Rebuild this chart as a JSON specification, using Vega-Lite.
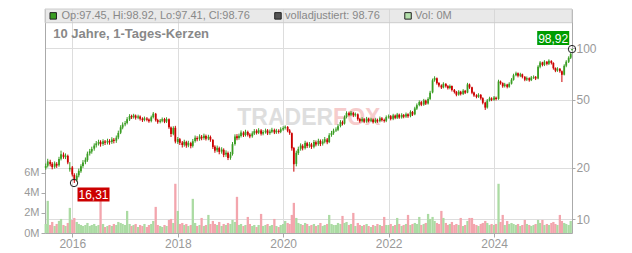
{
"$schema":"https://vega.github.io/schema/vega-lite/v6.json",
"width":527,"height":224,
"autosize":{"type":"none"},
"padding":{"left":45,"top":9,"right":60,"bottom":20},
"background":"white",
"config":{"font":"Liberation Sans","view":{"stroke":null}},
"datasets":{
"ohlc":[
{"d":"2015-07-01","o":20.0,"h":21.2,"l":19.5,"c":20.5,"v":0.9},
{"d":"2015-07-15","o":20.6,"h":22.6,"l":20.1,"c":21.8,"v":3.2},
{"d":"2015-08-01","o":21.7,"h":22.3,"l":20.4,"c":21.0,"v":0.8},
{"d":"2015-08-15","o":21.1,"h":21.6,"l":19.6,"c":20.2,"v":1.1},
{"d":"2015-09-01","o":20.3,"h":21.8,"l":19.8,"c":21.2,"v":0.7},
{"d":"2015-09-15","o":21.1,"h":21.6,"l":20.0,"c":20.6,"v":0.9},
{"d":"2015-10-01","o":20.7,"h":23.2,"l":20.3,"c":22.5,"v":1.2},
{"d":"2015-10-15","o":22.6,"h":25.2,"l":22.1,"c":24.0,"v":1.4},
{"d":"2015-11-01","o":23.9,"h":24.6,"l":22.6,"c":23.2,"v":0.8},
{"d":"2015-11-15","o":23.1,"h":24.3,"l":22.5,"c":23.6,"v":0.7},
{"d":"2015-12-01","o":23.5,"h":23.9,"l":21.0,"c":21.5,"v":1.0},
{"d":"2015-12-15","o":19.6,"h":21.6,"l":19.0,"c":20.0,"v":2.5},
{"d":"2016-01-01","o":20.1,"h":20.5,"l":17.8,"c":18.3,"v":1.3},
{"d":"2016-01-15","o":18.2,"h":18.6,"l":16.31,"c":16.9,"v":1.5},
{"d":"2016-02-01","o":17.0,"h":18.6,"l":16.6,"c":18.0,"v":1.1},
{"d":"2016-02-15","o":18.1,"h":19.8,"l":17.6,"c":19.2,"v":0.9},
{"d":"2016-03-01","o":19.1,"h":21.0,"l":18.7,"c":20.4,"v":0.8},
{"d":"2016-03-15","o":20.5,"h":22.2,"l":20.0,"c":21.5,"v":0.7},
{"d":"2016-04-01","o":21.6,"h":23.0,"l":21.0,"c":22.3,"v":0.8},
{"d":"2016-04-15","o":22.2,"h":24.9,"l":21.7,"c":24.2,"v":1.0},
{"d":"2016-05-01","o":24.3,"h":25.8,"l":23.6,"c":25.0,"v":0.7},
{"d":"2016-05-15","o":24.9,"h":26.6,"l":24.2,"c":25.8,"v":0.8},
{"d":"2016-06-01","o":25.9,"h":27.8,"l":25.2,"c":27.0,"v":0.9},
{"d":"2016-06-15","o":27.1,"h":28.7,"l":26.3,"c":27.8,"v":0.7},
{"d":"2016-07-01","o":27.7,"h":29.2,"l":27.0,"c":28.3,"v":0.8},
{"d":"2016-07-15","o":28.4,"h":29.0,"l":26.6,"c":27.5,"v":4.0},
{"d":"2016-08-01","o":27.6,"h":29.4,"l":26.9,"c":28.6,"v":0.9},
{"d":"2016-08-15","o":28.5,"h":29.1,"l":27.2,"c":28.0,"v":0.6},
{"d":"2016-09-01","o":28.1,"h":29.6,"l":27.4,"c":28.8,"v":0.7},
{"d":"2016-09-15","o":28.7,"h":29.4,"l":27.3,"c":28.2,"v":0.8},
{"d":"2016-10-01","o":28.3,"h":30.2,"l":27.6,"c":29.3,"v":0.7},
{"d":"2016-10-15","o":29.2,"h":29.9,"l":27.8,"c":28.7,"v":0.9},
{"d":"2016-11-01","o":28.8,"h":30.9,"l":28.0,"c":30.0,"v":0.8},
{"d":"2016-11-15","o":30.1,"h":33.0,"l":29.4,"c":32.0,"v":1.1},
{"d":"2016-12-01","o":32.1,"h":35.5,"l":31.5,"c":34.5,"v":1.0},
{"d":"2016-12-15","o":34.4,"h":36.9,"l":33.6,"c":35.8,"v":0.9},
{"d":"2017-01-01","o":35.9,"h":37.6,"l":35.0,"c":36.5,"v":0.8},
{"d":"2017-01-15","o":36.6,"h":39.6,"l":35.9,"c":38.5,"v":2.2},
{"d":"2017-02-01","o":38.4,"h":41.2,"l":37.6,"c":40.2,"v":0.9},
{"d":"2017-02-15","o":40.1,"h":40.9,"l":38.6,"c":39.5,"v":0.7},
{"d":"2017-03-01","o":39.6,"h":41.4,"l":38.8,"c":40.5,"v":0.8},
{"d":"2017-03-15","o":40.4,"h":41.0,"l":38.3,"c":39.2,"v":0.9},
{"d":"2017-04-01","o":39.3,"h":40.9,"l":38.5,"c":40.0,"v":0.6},
{"d":"2017-04-15","o":39.9,"h":40.5,"l":37.8,"c":38.7,"v":0.8},
{"d":"2017-05-01","o":38.8,"h":39.5,"l":37.1,"c":38.0,"v":0.7},
{"d":"2017-05-15","o":38.1,"h":39.9,"l":37.4,"c":39.0,"v":0.9},
{"d":"2017-06-01","o":38.9,"h":39.6,"l":37.4,"c":38.2,"v":0.6},
{"d":"2017-06-15","o":38.3,"h":38.9,"l":36.7,"c":37.5,"v":0.8},
{"d":"2017-07-01","o":37.6,"h":40.4,"l":36.9,"c":39.5,"v":0.9},
{"d":"2017-07-15","o":39.6,"h":42.4,"l":38.9,"c":41.5,"v":1.2},
{"d":"2017-08-01","o":41.4,"h":41.9,"l":37.3,"c":38.0,"v":2.6},
{"d":"2017-08-15","o":38.1,"h":38.7,"l":36.2,"c":37.0,"v":0.8},
{"d":"2017-09-01","o":37.1,"h":38.6,"l":36.4,"c":37.8,"v":0.7},
{"d":"2017-09-15","o":37.7,"h":39.4,"l":36.9,"c":38.5,"v":0.6},
{"d":"2017-10-01","o":38.6,"h":39.2,"l":36.5,"c":37.2,"v":0.8},
{"d":"2017-10-15","o":37.3,"h":39.5,"l":36.6,"c":38.6,"v":0.7},
{"d":"2017-11-01","o":38.5,"h":38.9,"l":33.8,"c":34.5,"v":1.3},
{"d":"2017-11-15","o":34.4,"h":34.9,"l":30.3,"c":31.5,"v":1.4},
{"d":"2017-12-01","o":31.6,"h":35.0,"l":31.0,"c":34.2,"v":1.0},
{"d":"2017-12-15","o":34.3,"h":35.2,"l":27.8,"c":28.5,"v":4.9},
{"d":"2018-01-01","o":28.3,"h":30.3,"l":27.6,"c":29.5,"v":2.2},
{"d":"2018-01-15","o":29.4,"h":29.9,"l":27.2,"c":28.0,"v":0.9},
{"d":"2018-02-01","o":28.1,"h":28.7,"l":26.3,"c":27.2,"v":1.0},
{"d":"2018-02-15","o":27.3,"h":29.2,"l":26.6,"c":28.4,"v":0.8},
{"d":"2018-03-01","o":28.3,"h":28.8,"l":26.2,"c":27.0,"v":0.9},
{"d":"2018-03-15","o":27.1,"h":28.8,"l":26.4,"c":28.0,"v":0.7},
{"d":"2018-04-01","o":27.9,"h":28.4,"l":26.0,"c":26.8,"v":0.8},
{"d":"2018-04-15","o":26.9,"h":29.5,"l":26.3,"c":28.6,"v":3.4},
{"d":"2018-05-01","o":28.7,"h":30.9,"l":28.1,"c":30.0,"v":1.0},
{"d":"2018-05-15","o":29.9,"h":30.6,"l":28.6,"c":29.4,"v":0.7},
{"d":"2018-06-01","o":29.5,"h":31.4,"l":28.8,"c":30.5,"v":0.8},
{"d":"2018-06-15","o":30.4,"h":31.1,"l":29.0,"c":29.8,"v":1.5},
{"d":"2018-07-01","o":29.9,"h":31.7,"l":29.2,"c":30.8,"v":0.7},
{"d":"2018-07-15","o":30.7,"h":31.3,"l":28.9,"c":29.6,"v":0.8},
{"d":"2018-08-01","o":29.7,"h":31.2,"l":29.0,"c":30.4,"v":1.8},
{"d":"2018-08-15","o":30.3,"h":30.9,"l":28.4,"c":29.2,"v":0.9},
{"d":"2018-09-01","o":29.1,"h":29.5,"l":25.8,"c":26.5,"v":1.2},
{"d":"2018-09-15","o":26.6,"h":27.1,"l":24.5,"c":25.2,"v":0.9},
{"d":"2018-10-01","o":25.3,"h":27.0,"l":24.7,"c":26.2,"v":0.8},
{"d":"2018-10-15","o":26.1,"h":26.6,"l":24.0,"c":24.8,"v":1.1},
{"d":"2018-11-01","o":24.9,"h":26.4,"l":24.2,"c":25.6,"v":0.7},
{"d":"2018-11-15","o":25.5,"h":26.0,"l":23.1,"c":23.8,"v":0.9},
{"d":"2018-12-01","o":23.9,"h":25.3,"l":23.2,"c":24.5,"v":0.8},
{"d":"2018-12-15","o":24.4,"h":24.9,"l":22.2,"c":22.8,"v":1.0},
{"d":"2019-01-01","o":22.9,"h":24.8,"l":22.3,"c":24.0,"v":0.9},
{"d":"2019-01-15","o":24.1,"h":28.3,"l":23.6,"c":27.5,"v":1.3},
{"d":"2019-02-01","o":27.6,"h":31.4,"l":27.0,"c":30.5,"v":1.1},
{"d":"2019-02-15","o":30.6,"h":31.5,"l":29.0,"c":29.8,"v":3.6},
{"d":"2019-03-01","o":29.9,"h":31.7,"l":29.2,"c":30.8,"v":0.8},
{"d":"2019-03-15","o":30.7,"h":33.1,"l":30.1,"c":32.2,"v":0.9},
{"d":"2019-04-01","o":32.1,"h":32.7,"l":30.3,"c":31.0,"v":0.7},
{"d":"2019-04-15","o":31.1,"h":33.4,"l":30.5,"c":32.5,"v":0.8},
{"d":"2019-05-01","o":32.4,"h":33.0,"l":30.5,"c":31.2,"v":1.6},
{"d":"2019-05-15","o":31.3,"h":31.9,"l":29.8,"c":30.5,"v":0.9},
{"d":"2019-06-01","o":30.6,"h":32.7,"l":30.0,"c":31.8,"v":0.7},
{"d":"2019-06-15","o":31.7,"h":33.7,"l":31.1,"c":32.8,"v":0.8},
{"d":"2019-07-01","o":32.9,"h":33.6,"l":31.3,"c":32.0,"v":0.6},
{"d":"2019-07-15","o":32.1,"h":34.1,"l":31.5,"c":33.2,"v":0.8},
{"d":"2019-08-01","o":33.1,"h":33.7,"l":30.9,"c":31.6,"v":1.9},
{"d":"2019-08-15","o":31.7,"h":33.2,"l":31.0,"c":32.4,"v":0.7},
{"d":"2019-09-01","o":32.3,"h":33.9,"l":31.7,"c":33.0,"v":0.8},
{"d":"2019-09-15","o":33.1,"h":33.7,"l":31.1,"c":31.8,"v":0.9},
{"d":"2019-10-01","o":31.9,"h":33.5,"l":31.2,"c":32.6,"v":0.7},
{"d":"2019-10-15","o":32.5,"h":34.3,"l":31.9,"c":33.4,"v":0.8},
{"d":"2019-11-01","o":33.3,"h":33.9,"l":31.5,"c":32.2,"v":1.4},
{"d":"2019-11-15","o":32.3,"h":33.8,"l":31.6,"c":33.0,"v":0.7},
{"d":"2019-12-01","o":32.9,"h":33.6,"l":31.7,"c":32.4,"v":0.6},
{"d":"2019-12-15","o":32.5,"h":34.5,"l":31.9,"c":33.6,"v":0.8},
{"d":"2020-01-01","o":33.5,"h":35.0,"l":32.9,"c":34.2,"v":0.9},
{"d":"2020-01-15","o":34.3,"h":35.4,"l":33.5,"c":34.8,"v":1.2},
{"d":"2020-02-01","o":34.7,"h":35.1,"l":32.3,"c":33.0,"v":1.0},
{"d":"2020-02-15","o":33.1,"h":33.7,"l":31.2,"c":32.0,"v":0.9},
{"d":"2020-03-01","o":31.9,"h":32.2,"l":25.2,"c":26.0,"v":1.8},
{"d":"2020-03-15","o":26.1,"h":26.5,"l":19.0,"c":21.0,"v":3.0},
{"d":"2020-04-01","o":21.1,"h":25.2,"l":20.4,"c":24.5,"v":1.5},
{"d":"2020-04-15","o":24.4,"h":26.6,"l":23.8,"c":25.8,"v":1.0},
{"d":"2020-05-01","o":25.9,"h":27.8,"l":25.2,"c":27.0,"v":0.9},
{"d":"2020-05-15","o":26.9,"h":27.5,"l":25.3,"c":26.0,"v":0.8},
{"d":"2020-06-01","o":26.1,"h":28.8,"l":25.6,"c":28.0,"v":1.0},
{"d":"2020-06-15","o":27.9,"h":28.4,"l":26.1,"c":26.8,"v":0.9},
{"d":"2020-07-01","o":26.9,"h":28.3,"l":26.2,"c":27.5,"v":0.7},
{"d":"2020-07-15","o":27.4,"h":28.0,"l":25.8,"c":26.5,"v":0.8},
{"d":"2020-08-01","o":26.6,"h":29.1,"l":26.0,"c":28.3,"v":0.9},
{"d":"2020-08-15","o":28.2,"h":28.9,"l":26.7,"c":27.4,"v":0.7},
{"d":"2020-09-01","o":27.5,"h":29.6,"l":26.9,"c":28.8,"v":0.8},
{"d":"2020-09-15","o":28.7,"h":29.3,"l":26.8,"c":27.6,"v":1.0},
{"d":"2020-10-01","o":27.7,"h":29.4,"l":27.0,"c":28.5,"v":0.7},
{"d":"2020-10-15","o":28.4,"h":30.3,"l":27.8,"c":29.4,"v":0.8},
{"d":"2020-11-01","o":29.3,"h":29.9,"l":27.5,"c":28.2,"v":0.9},
{"d":"2020-11-15","o":28.3,"h":31.9,"l":27.9,"c":31.0,"v":1.8},
{"d":"2020-12-01","o":31.1,"h":32.9,"l":30.4,"c":32.0,"v":0.9},
{"d":"2020-12-15","o":31.9,"h":33.9,"l":31.2,"c":33.0,"v":0.8},
{"d":"2021-01-01","o":33.1,"h":34.5,"l":32.4,"c":33.5,"v":0.8},
{"d":"2021-01-15","o":33.4,"h":36.0,"l":32.8,"c":35.0,"v":1.0},
{"d":"2021-02-01","o":35.1,"h":38.0,"l":34.5,"c":37.0,"v":0.9},
{"d":"2021-02-15","o":36.9,"h":37.8,"l":35.4,"c":36.2,"v":1.7},
{"d":"2021-03-01","o":36.3,"h":40.5,"l":35.8,"c":39.5,"v":1.0},
{"d":"2021-03-15","o":39.6,"h":42.8,"l":38.9,"c":41.8,"v":1.1},
{"d":"2021-04-01","o":41.7,"h":42.6,"l":40.0,"c":40.8,"v":0.8},
{"d":"2021-04-15","o":40.9,"h":43.0,"l":40.1,"c":42.0,"v":0.9},
{"d":"2021-05-01","o":41.9,"h":42.5,"l":39.6,"c":40.5,"v":2.0},
{"d":"2021-05-15","o":40.6,"h":42.1,"l":39.8,"c":41.2,"v":0.7},
{"d":"2021-06-01","o":41.1,"h":41.6,"l":37.7,"c":38.5,"v":1.0},
{"d":"2021-06-15","o":38.6,"h":39.2,"l":36.7,"c":37.5,"v":0.8},
{"d":"2021-07-01","o":37.6,"h":39.5,"l":36.9,"c":38.6,"v":0.7},
{"d":"2021-07-15","o":38.5,"h":39.1,"l":36.5,"c":37.2,"v":0.8},
{"d":"2021-08-01","o":37.3,"h":39.7,"l":36.7,"c":38.8,"v":0.9},
{"d":"2021-08-15","o":38.7,"h":39.3,"l":36.9,"c":37.6,"v":0.7},
{"d":"2021-09-01","o":37.7,"h":39.2,"l":37.0,"c":38.4,"v":0.6},
{"d":"2021-09-15","o":38.3,"h":38.9,"l":36.3,"c":37.0,"v":0.8},
{"d":"2021-10-01","o":37.1,"h":39.0,"l":36.5,"c":38.2,"v":0.7},
{"d":"2021-10-15","o":38.1,"h":38.8,"l":36.7,"c":37.4,"v":0.9},
{"d":"2021-11-01","o":37.5,"h":39.9,"l":36.9,"c":39.0,"v":0.8},
{"d":"2021-11-15","o":38.9,"h":39.6,"l":37.3,"c":38.0,"v":0.7},
{"d":"2021-12-01","o":38.1,"h":38.8,"l":36.8,"c":37.6,"v":1.6},
{"d":"2021-12-15","o":37.7,"h":40.5,"l":37.0,"c":39.6,"v":0.8},
{"d":"2022-01-01","o":39.5,"h":41.0,"l":38.8,"c":40.0,"v":0.8},
{"d":"2022-01-15","o":40.1,"h":40.7,"l":37.9,"c":38.6,"v":0.9},
{"d":"2022-02-01","o":38.7,"h":41.4,"l":38.0,"c":40.5,"v":0.7},
{"d":"2022-02-15","o":40.4,"h":41.0,"l":38.5,"c":39.2,"v":0.8},
{"d":"2022-03-01","o":39.3,"h":41.9,"l":38.6,"c":41.0,"v":1.5},
{"d":"2022-03-15","o":40.9,"h":41.5,"l":38.7,"c":39.4,"v":0.9},
{"d":"2022-04-01","o":39.5,"h":41.7,"l":38.8,"c":40.8,"v":0.7},
{"d":"2022-04-15","o":40.7,"h":41.3,"l":39.0,"c":39.8,"v":0.8},
{"d":"2022-05-01","o":39.9,"h":42.1,"l":39.2,"c":41.2,"v":0.9},
{"d":"2022-05-15","o":41.1,"h":41.7,"l":39.2,"c":40.0,"v":1.8},
{"d":"2022-06-01","o":40.1,"h":43.4,"l":39.5,"c":42.5,"v":0.8},
{"d":"2022-06-15","o":42.4,"h":43.0,"l":40.2,"c":41.0,"v":0.9},
{"d":"2022-07-01","o":41.1,"h":45.5,"l":40.6,"c":44.5,"v":1.0},
{"d":"2022-07-15","o":44.4,"h":47.6,"l":43.6,"c":46.5,"v":0.9},
{"d":"2022-08-01","o":46.6,"h":49.6,"l":45.8,"c":48.5,"v":1.6},
{"d":"2022-08-15","o":48.4,"h":49.2,"l":45.9,"c":46.8,"v":0.8},
{"d":"2022-09-01","o":46.9,"h":50.6,"l":46.1,"c":49.5,"v":0.9},
{"d":"2022-09-15","o":49.4,"h":50.1,"l":46.6,"c":47.5,"v":1.0},
{"d":"2022-10-01","o":47.6,"h":51.7,"l":46.9,"c":50.5,"v":1.9},
{"d":"2022-10-15","o":50.6,"h":56.4,"l":49.9,"c":55.0,"v":1.4},
{"d":"2022-11-01","o":55.2,"h":66.5,"l":54.5,"c":65.0,"v":1.6},
{"d":"2022-11-15","o":65.1,"h":68.6,"l":63.8,"c":67.0,"v":1.2},
{"d":"2022-12-01","o":66.8,"h":67.5,"l":61.3,"c":62.5,"v":1.0},
{"d":"2022-12-15","o":62.6,"h":63.4,"l":59.2,"c":60.5,"v":0.9},
{"d":"2023-01-01","o":60.6,"h":61.5,"l":57.8,"c":59.0,"v":2.2},
{"d":"2023-01-15","o":59.1,"h":63.3,"l":58.3,"c":62.0,"v":1.5},
{"d":"2023-02-01","o":61.9,"h":62.6,"l":58.9,"c":60.0,"v":1.0},
{"d":"2023-02-15","o":60.1,"h":60.9,"l":57.4,"c":58.5,"v":0.8},
{"d":"2023-03-01","o":58.6,"h":61.4,"l":57.6,"c":60.2,"v":0.9},
{"d":"2023-03-15","o":60.1,"h":60.6,"l":55.9,"c":57.0,"v":1.1},
{"d":"2023-04-01","o":57.1,"h":57.8,"l":54.4,"c":55.5,"v":0.8},
{"d":"2023-04-15","o":55.6,"h":56.3,"l":52.4,"c":53.5,"v":0.9},
{"d":"2023-05-01","o":53.6,"h":56.9,"l":52.8,"c":55.8,"v":0.8},
{"d":"2023-05-15","o":55.7,"h":56.4,"l":53.0,"c":54.0,"v":1.5},
{"d":"2023-06-01","o":54.1,"h":57.7,"l":53.3,"c":56.5,"v":0.7},
{"d":"2023-06-15","o":56.4,"h":57.1,"l":54.0,"c":55.0,"v":0.8},
{"d":"2023-07-01","o":55.1,"h":62.8,"l":54.6,"c":61.5,"v":1.2},
{"d":"2023-07-15","o":61.4,"h":62.2,"l":57.9,"c":59.0,"v":1.5},
{"d":"2023-08-01","o":59.1,"h":59.6,"l":53.9,"c":55.0,"v":1.5},
{"d":"2023-08-15","o":55.1,"h":55.8,"l":52.0,"c":53.0,"v":0.9},
{"d":"2023-09-01","o":53.1,"h":53.9,"l":51.0,"c":52.0,"v":0.8},
{"d":"2023-09-15","o":52.1,"h":54.6,"l":51.3,"c":53.5,"v":0.7},
{"d":"2023-10-01","o":53.4,"h":54.0,"l":50.0,"c":51.0,"v":0.9},
{"d":"2023-10-15","o":51.1,"h":51.7,"l":47.0,"c":48.0,"v":1.0},
{"d":"2023-11-01","o":48.1,"h":48.7,"l":43.6,"c":45.0,"v":1.2},
{"d":"2023-11-15","o":45.1,"h":50.5,"l":44.4,"c":49.5,"v":1.0},
{"d":"2023-12-01","o":49.6,"h":52.1,"l":48.8,"c":51.0,"v":0.8},
{"d":"2023-12-15","o":50.9,"h":51.7,"l":49.1,"c":50.0,"v":0.9},
{"d":"2024-01-01","o":50.1,"h":52.6,"l":49.3,"c":51.5,"v":0.8},
{"d":"2024-01-15","o":51.4,"h":52.2,"l":49.6,"c":50.5,"v":0.9},
{"d":"2024-02-01","o":50.6,"h":65.5,"l":50.0,"c":64.0,"v":4.9},
{"d":"2024-02-15","o":63.9,"h":64.8,"l":61.3,"c":62.5,"v":1.1},
{"d":"2024-03-01","o":62.6,"h":63.2,"l":58.8,"c":60.0,"v":1.8},
{"d":"2024-03-15","o":60.1,"h":62.8,"l":59.0,"c":61.5,"v":0.8},
{"d":"2024-04-01","o":61.4,"h":62.0,"l":58.3,"c":59.5,"v":1.2},
{"d":"2024-04-15","o":59.6,"h":63.3,"l":58.8,"c":62.0,"v":0.9},
{"d":"2024-05-01","o":62.1,"h":66.9,"l":61.4,"c":65.5,"v":1.0},
{"d":"2024-05-15","o":65.4,"h":71.0,"l":64.7,"c":69.5,"v":0.9},
{"d":"2024-06-01","o":69.6,"h":73.0,"l":68.6,"c":71.5,"v":0.8},
{"d":"2024-06-15","o":71.4,"h":72.2,"l":67.6,"c":69.0,"v":0.9},
{"d":"2024-07-01","o":69.1,"h":71.9,"l":67.8,"c":70.5,"v":0.7},
{"d":"2024-07-15","o":70.4,"h":71.1,"l":66.7,"c":68.0,"v":0.8},
{"d":"2024-08-01","o":68.1,"h":68.8,"l":64.2,"c":65.5,"v":1.3},
{"d":"2024-08-15","o":65.6,"h":68.4,"l":64.4,"c":67.0,"v":0.9},
{"d":"2024-09-01","o":66.9,"h":67.6,"l":63.8,"c":65.0,"v":0.8},
{"d":"2024-09-15","o":65.1,"h":68.9,"l":64.3,"c":67.5,"v":0.7},
{"d":"2024-10-01","o":67.4,"h":69.4,"l":66.2,"c":68.0,"v":0.8},
{"d":"2024-10-15","o":68.1,"h":68.8,"l":65.2,"c":66.5,"v":0.9},
{"d":"2024-11-01","o":66.6,"h":79.6,"l":65.9,"c":78.0,"v":1.3},
{"d":"2024-11-15","o":77.9,"h":84.2,"l":76.4,"c":82.5,"v":1.0},
{"d":"2024-12-01","o":82.6,"h":83.4,"l":78.4,"c":80.0,"v":1.3},
{"d":"2024-12-15","o":80.1,"h":85.2,"l":78.7,"c":83.5,"v":0.8},
{"d":"2025-01-01","o":83.4,"h":84.2,"l":79.4,"c":81.0,"v":0.9},
{"d":"2025-01-15","o":81.1,"h":86.2,"l":79.8,"c":84.5,"v":0.8},
{"d":"2025-02-01","o":84.4,"h":85.1,"l":80.4,"c":82.0,"v":1.0},
{"d":"2025-02-15","o":82.1,"h":82.8,"l":75.0,"c":76.5,"v":1.1},
{"d":"2025-03-01","o":76.6,"h":77.3,"l":72.5,"c":74.0,"v":0.9},
{"d":"2025-03-15","o":74.1,"h":77.5,"l":72.8,"c":76.0,"v":0.8},
{"d":"2025-04-01","o":75.9,"h":76.6,"l":72.0,"c":73.5,"v":1.8},
{"d":"2025-04-15","o":73.4,"h":74.2,"l":63.5,"c":70.0,"v":1.2},
{"d":"2025-05-01","o":70.1,"h":80.6,"l":69.4,"c":79.0,"v":1.0},
{"d":"2025-05-15","o":79.1,"h":85.2,"l":77.5,"c":83.5,"v":0.9},
{"d":"2025-06-01","o":83.4,"h":89.8,"l":82.0,"c":88.0,"v":0.8},
{"d":"2025-06-15","o":88.1,"h":94.4,"l":86.5,"c":92.5,"v":1.2},
{"d":"2025-06-24","o":97.45,"h":98.92,"l":97.41,"c":98.76,"v":0.0}
],
"extremes":[
{"d":"2016-01-13","p":16.31,"t":"16,31","k":"lo"},
{"d":"2025-06-24","p":98.92,"t":"98,92","k":"hi"}
]
},
"layer":[
{
"data":{"name":"ohlc"},
"mark":{"type":"bar","width":2.3},
"encoding":{
"x":{"field":"d","type":"temporal","title":null,
"scale":{"type":"utc","padding":0,"domain":[{"year":2015,"month":6,"date":26,"utc":true},{"year":2025,"month":6,"date":24,"utc":true}]},
"axis":{"orient":"bottom","format":"%Y","tickCount":{"interval":"year","step":2},"grid":true,"gridColor":"#dddddd","domainColor":"#aaaaaa","tickColor":"#aaaaaa","tickSize":4,"labelPadding":1,"labelFontSize":12,"labelColor":"#999999","labelFont":"Liberation Sans"}},
"y":{"field":"v","type":"quantitative","title":null,
"scale":{"domain":[0,22.3],"nice":false,"zero":true},
"axis":{"orient":"left","values":[0,2,4,6],"labelExpr":"datum.value + 'M'","grid":false,"domainColor":"#aaaaaa","tickColor":"#aaaaaa","tickSize":4,"labelPadding":2,"labelFontSize":11,"labelColor":"#999999","labelFont":"Liberation Sans"}},
"color":{"condition":{"test":"datum.c >= datum.o","value":"#abdba3"},"value":"#f3a5ad"}
}
},
{
"layer":[
{
"data":{"values":[{}]},
"mark":{"type":"rect","fill":"#d4d4d4","fillOpacity":0.5,"stroke":"#cccccc","strokeWidth":1},
"encoding":{
"x":{"datum":{"year":2015,"month":6,"date":26,"utc":true},"type":"temporal"},
"x2":{"datum":{"year":2025,"month":6,"date":24,"utc":true}},
"y":{"datum":169.7,"type":"quantitative","title":null,"scale":{"type":"log","domain":[8.32,169.7],"nice":false},
"axis":{"orient":"right","values":[10,20,50,100],"format":"d","grid":true,"gridColor":"#dddddd","domainColor":"#aaaaaa","tickColor":"#aaaaaa","tickSize":3,"labelPadding":1,"labelFontSize":12,"labelColor":"#999999","labelFont":"Liberation Sans"}},
"y2":{"datum":141.1}
}
},
{
"data":{"values":[{"w":"TRADER"}]},
"mark":{"type":"text","align":"right","baseline":"alphabetic","font":"Liberation Sans","fontWeight":"bold","fontSize":23,"color":"#dedede"},
"encoding":{"x":{"datum":{"year":2020,"month":12,"date":12,"utc":true},"type":"temporal"},"y":{"datum":35.6,"type":"quantitative","title":null},"text":{"field":"w"}}
},
{
"data":{"values":[{"w":"FOX"}]},
"mark":{"type":"text","align":"left","baseline":"alphabetic","font":"Liberation Sans","fontWeight":"bold","fontSize":23,"color":"#f6cccc"},
"encoding":{"x":{"datum":{"year":2020,"month":12,"date":12,"utc":true},"type":"temporal"},"y":{"datum":35.6,"type":"quantitative","title":null},"text":{"field":"w"}}
},
{
"data":{"values":[{"w":"10 Jahre, 1-Tages-Kerzen"}]},
"mark":{"type":"text","align":"left","baseline":"alphabetic","font":"Liberation Sans","fontWeight":"bold","fontSize":13,"color":"#888888"},
"encoding":{"x":{"datum":{"year":2015,"month":8,"date":22,"utc":true},"type":"temporal"},"y":{"datum":115.6,"type":"quantitative","title":null},"text":{"field":"w"}}
},
{
"data":{"values":[{"w":"Op:97.45, Hi:98.92, Lo:97.41, Cl:98.76"}]},
"mark":{"type":"text","align":"left","baseline":"middle","font":"Liberation Sans","fontSize":11,"color":"#888888"},
"encoding":{"x":{"datum":{"year":2015,"month":10,"date":18,"utc":true},"type":"temporal"},"y":{"datum":154.7,"type":"quantitative","title":null},"text":{"field":"w"}}
},
{
"data":{"values":[{"w":"volladjustiert: 98.76"}]},
"mark":{"type":"text","align":"left","baseline":"middle","font":"Liberation Sans","fontSize":11,"color":"#888888"},
"encoding":{"x":{"datum":{"year":2020,"month":1,"date":14,"utc":true},"type":"temporal"},"y":{"datum":154.7,"type":"quantitative","title":null},"text":{"field":"w"}}
},
{
"data":{"values":[{"w":"Vol: 0M"}]},
"mark":{"type":"text","align":"left","baseline":"middle","font":"Liberation Sans","fontSize":11,"color":"#888888"},
"encoding":{"x":{"datum":{"year":2022,"month":7,"date":3,"utc":true},"type":"temporal"},"y":{"datum":154.7,"type":"quantitative","title":null},"text":{"field":"w"}}
},
{
"data":{"values":[{}]},
"mark":{"type":"point","shape":"square","filled":true,"fill":"#3a9d23","stroke":"#222222","strokeWidth":1,"size":42,"opacity":1},
"encoding":{"x":{"datum":{"year":2015,"month":8,"date":22,"utc":true},"type":"temporal"},"y":{"datum":154.7,"type":"quantitative","title":null}}
},
{
"data":{"values":[{}]},
"mark":{"type":"point","shape":"square","filled":true,"fill":"#555555","stroke":"#222222","strokeWidth":1,"size":42,"opacity":1},
"encoding":{"x":{"datum":{"year":2019,"month":11,"date":26,"utc":true},"type":"temporal"},"y":{"datum":154.7,"type":"quantitative","title":null}}
},
{
"data":{"values":[{}]},
"mark":{"type":"point","shape":"square","filled":true,"fill":"#b4e0ac","stroke":"#222222","strokeWidth":1,"size":42,"opacity":1},
"encoding":{"x":{"datum":{"year":2022,"month":5,"date":15,"utc":true},"type":"temporal"},"y":{"datum":154.7,"type":"quantitative","title":null}}
},
{
"data":{"name":"ohlc"},
"mark":{"type":"rule","strokeWidth":1},
"encoding":{
"x":{"field":"d","type":"temporal","title":null},
"y":{"field":"l","type":"quantitative","title":null},
"y2":{"field":"h"},
"color":{"condition":{"test":"datum.c >= datum.o","value":"#3a9d23"},"value":"#cc0000"}
}
},
{
"data":{"name":"ohlc"},
"mark":{"type":"bar","width":1.8},
"encoding":{
"x":{"field":"d","type":"temporal","title":null},
"y":{"field":"o","type":"quantitative","title":null},
"y2":{"field":"c"},
"color":{"condition":{"test":"datum.c >= datum.o","value":"#3a9d23"},"value":"#cc0000"}
}
},
{
"data":{"name":"extremes"},
"mark":{"type":"point","shape":"circle","filled":false,"stroke":"#222222","strokeWidth":1,"size":55,"opacity":1},
"encoding":{"x":{"field":"d","type":"temporal","title":null},"y":{"field":"p","type":"quantitative","title":null}}
},
{
"data":{"name":"extremes"},
"transform":[{"filter":"datum.k == 'lo'"}],
"mark":{"type":"point","shape":"M-1,-0.4375H1V0.4375H-1Z","filled":true,"fill":"#cc0000","strokeWidth":0,"size":1024,"opacity":1,"xOffset":19.5,"yOffset":11.4},
"encoding":{"x":{"field":"d","type":"temporal","title":null},"y":{"field":"p","type":"quantitative","title":null}}
},
{
"data":{"name":"extremes"},
"transform":[{"filter":"datum.k == 'hi'"}],
"mark":{"type":"point","shape":"M-1,-0.4375H1V0.4375H-1Z","filled":true,"fill":"#009c00","strokeWidth":0,"size":1024,"opacity":1,"xOffset":-18.8,"yOffset":-11},
"encoding":{"x":{"field":"d","type":"temporal","title":null},"y":{"field":"p","type":"quantitative","title":null}}
},
{
"data":{"name":"extremes"},
"transform":[{"filter":"datum.k == 'lo'"}],
"mark":{"type":"text","align":"center","baseline":"middle","font":"Liberation Sans","fontSize":12,"color":"white","xOffset":19.5,"yOffset":11.9},
"encoding":{"x":{"field":"d","type":"temporal","title":null},"y":{"field":"p","type":"quantitative","title":null},"text":{"field":"t"}}
},
{
"data":{"name":"extremes"},
"transform":[{"filter":"datum.k == 'hi'"}],
"mark":{"type":"text","align":"center","baseline":"middle","font":"Liberation Sans","fontSize":12,"color":"white","xOffset":-18.8,"yOffset":-10.5},
"encoding":{"x":{"field":"d","type":"temporal","title":null},"y":{"field":"p","type":"quantitative","title":null},"text":{"field":"t"}}
}
]
}
],
"resolve":{"scale":{"y":"independent"}}
}
